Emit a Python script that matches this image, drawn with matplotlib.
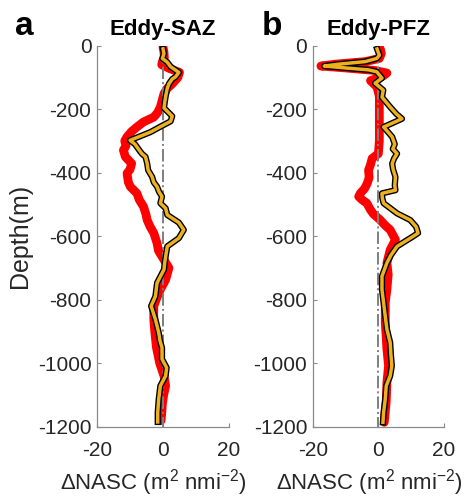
import matplotlib
matplotlib.use("Agg")
import matplotlib.pyplot as plt
import matplotlib.patheffects as pe
import numpy as np

plt.rcParams['font.family'] = ['Liberation Sans', 'DejaVu Sans']
plt.rcParams['mathtext.fontset'] = 'custom'
plt.rcParams['mathtext.rm'] = 'Liberation Sans'
plt.rcParams['mathtext.it'] = 'Liberation Sans'
plt.rcParams['axes.unicode_minus'] = False

# Eddy-SAZ, red profile (depth in m, dNASC)
saz_red_depth = [5, 20, 38, 50, 60, 72, 84, 100, 120, 135, 151, 170, 193, 210, 225, 240, 256, 270,
                 287, 300, 315, 329, 350, 371, 390, 402, 430, 444, 465, 485, 507, 530, 549, 570,
                 590, 622, 645, 664, 700, 737, 768, 795, 820, 862, 900, 950, 1000, 1040, 1071,
                 1100, 1130, 1160, 1181]
saz_red_val = [0, 0.3, 0.4, -0.2, -0.4, 2.0, 5.0, 4.5, 2.8, 1.2, 0.3, -0.2, -0.8, -1.6, -2.8, -5.9,
               -7.9, -9.5, -10.9, -11.6, -11.2, -12.0, -11.4, -9.5, -10.0, -10.9, -10.5, -9.9,
               -7.9, -7.2, -5.9, -5.2, -4.8, -3.9, -2.8, -1.8, -1.4, -0.3, 1.8, 0.8, -0.8, -1.9,
               -2.8, -2.8, -2.5, -2.0, -1.0, 0.3, 0.8, 0.2, -0.2, -0.4, -0.6]

# Eddy-SAZ, yellow profile
saz_yel_depth = [10, 25, 40, 52, 66, 84, 98, 105, 120, 134, 160, 180, 196, 222, 238, 255, 272, 298,
                 310, 329, 340, 350, 371, 392, 413, 430, 444, 460, 475, 496, 512, 533, 557, 580,
                 606, 632, 664, 685, 705, 747, 789, 820, 862, 904, 930, 951, 987, 1014, 1040, 1071,
                 1113, 1155, 1185]
saz_yel_val = [0, 0.3, -0.2, 1.3, 2.3, 4.8, 3.8, 2.8, 1.8, 1.3, 0.8, 0.5, 0.3, 2.8, 2.3, -0.8,
               -3.8, -10.0, -8.5, -7.2, -6.4, -5.3, -4.8, -4.5, -3.3, -2.8, -1.8, -1.2, -0.3,
               -0.8, 0.8, 1.3, 4.8, 6.3, 4.8, 1.3, 0.8, 0.5, 0.3, -1.8, -2.3, -3.6, -2.3, -1.3,
               -0.9, -0.3, -0.3, 1.1, 0.8, -0.8, -1.3, -1.6, -1.6]

# Eddy-PFZ, red profile
pfz_red_depth = [10, 25, 40, 50, 58, 64, 70, 78, 86, 95, 110, 130, 160, 200, 250, 300, 340, 355,
                 375, 392, 415, 434, 450, 465, 475, 485, 496, 517, 530, 549, 565, 580, 611, 643,
                 684, 720, 768, 810, 872, 920, 956, 1008, 1060, 1120, 1186]
pfz_red_val = [0.6, 0.9, 0.3, -4, -13, -17.5, -10, -1, 2.6, 1.5, -2.4, -0.4, 0.3, 0.3, 0.3, 0.3,
               0.0, -1.9, -2.4, -3.0, -2.8, -3.4, -4.2, -5.5, -6.0, -5.0, -3.5, -2.4, -1.5, 0.6,
               2.0, 3.6, 5.2, 3.6, 2.6, 3.0, 2.6, 2.1, 2.1, 2.4, 2.6, 3.1, 2.6, 2.4, 1.8]

# Eddy-PFZ, yellow profile
pfz_yel_depth = [10, 30, 40, 50, 58, 64, 70, 76, 82, 102, 118, 140, 162, 193, 215, 230, 245, 256,
                 275, 287, 310, 325, 340, 355, 371, 390, 413, 440, 455, 465, 480, 496, 528, 549,
                 570, 590, 601, 632, 660, 684, 726, 768, 810, 852, 893, 935, 970, 1008, 1040, 1071,
                 1113, 1155, 1186]
pfz_yel_val = [-0.4, 0.3, -0.5, -4, -12, -16.5, -10, -3, -0.5, 1.1, -1.0, 1.5, 1.1, 3.6, 5.5, 7.2,
               4.0, 1.6, 3.2, 4.2, 5.0, 4.4, 5.7, 4.8, 4.2, 4.5, 5.2, 5.0, 5.2, 1.1, 1.2, 1.6, 5.7,
               9.7, 11.5, 12.1, 10.5, 5.7, 3.8, 2.6, 1.1, 1.1, 1.6, 2.1, 2.6, 3.6, 3.8, 4.1, 3.6,
               2.4, 2.1, 1.6, 1.4]

titles = ['Eddy-SAZ', 'Eddy-PFZ']
panel_labels = ['a', 'b']
yticks = [-1200, -1000, -800, -600, -400, -200, 0]
xticks = [-20, 0, 20]

red = '#ff0000'
yel = '#edb120'
spine_col = '#8a8a8a'

fig = plt.figure(figsize=(4.67, 4.97), dpi=100)
ax1 = fig.add_axes([0.2077, 0.1414, 0.2827, 0.7666])
ax2 = fig.add_axes([0.6696, 0.1414, 0.2812, 0.7666])

data = [(saz_red_depth, saz_red_val, saz_yel_depth, saz_yel_val),
        (pfz_red_depth, pfz_red_val, pfz_yel_depth, pfz_yel_val)]

for i, ax in enumerate([ax1, ax2]):
    rd, rv, yd, yv = data[i]
    ax.plot(rv, -np.array(rd), color=red, lw=6.3, solid_capstyle='round',
            solid_joinstyle='round', zorder=1)
    ax.plot([0, 0], [0, -1200], color='#7f7f7f', lw=1.4, ls='-.', zorder=2)
    ax.plot(yv, -np.array(yd), color=yel, lw=2.5, zorder=3,
            path_effects=[pe.Stroke(linewidth=4.5, foreground='black'), pe.Normal()])
    ax.set_xlim(-20, 20)
    ax.set_ylim(-1200, 0)
    ax.set_xticks(xticks)
    ax.set_yticks(yticks)
    ax.spines['top'].set_visible(False)
    ax.spines['right'].set_visible(False)
    for s in ['left', 'bottom']:
        ax.spines[s].set_color(spine_col)
        ax.spines[s].set_linewidth(0.9)
    ax.tick_params(direction='in', length=3, width=0.8, color=spine_col,
                   labelsize=15, labelcolor='#262626')
    ax.tick_params(axis='x', pad=10)
    ax.tick_params(axis='y', pad=4)
    ax.set_title(titles[i], fontsize=16, fontweight='bold', pad=8)
    ax.set_xlabel(r'$\Delta$NASC (m$^2$ nmi$^{-2}$)', fontsize=16, color='#262626')
    ax.xaxis.set_label_coords(0.43, -0.105)
    ax.patch.set_visible(False)

ax1.set_ylabel('Depth(m)', fontsize=18, color='#262626')
ax1.yaxis.set_label_coords(-0.49, 0.5)

fig.text(0.032, 0.93, panel_labels[0], fontsize=24, fontweight='bold')
fig.text(0.561, 0.93, panel_labels[1], fontsize=24, fontweight='bold')

fig.savefig('out.png', dpi=100)
